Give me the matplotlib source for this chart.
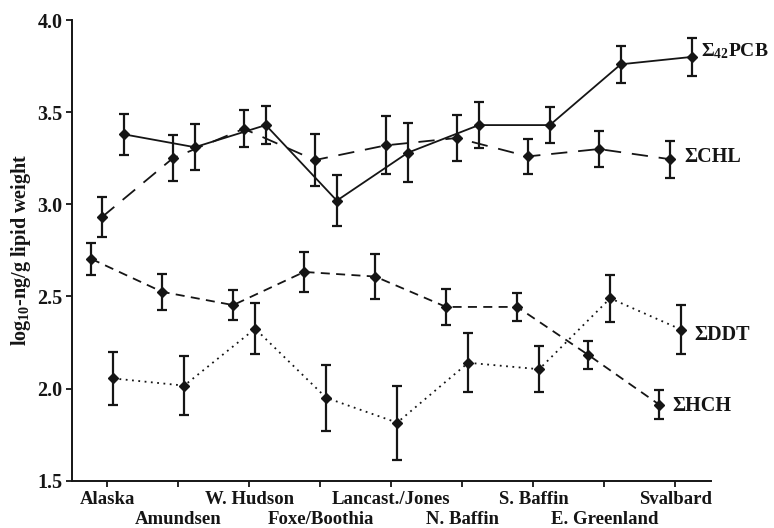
import matplotlib
matplotlib.use("Agg")
import matplotlib.pyplot as plt
import numpy as np

sites = ["Alaska", "Amundsen", "W. Hudson", "Foxe/Boothia", "Lancast./Jones",
         "N. Baffin", "S. Baffin", "E. Greenland", "Svalbard"]

pcb = [3.38, 3.31, 3.43, 3.02, 3.28, 3.43, 3.43, 3.76, 3.80]
pcb_err = [0.11, 0.125, 0.105, 0.14, 0.16, 0.124, 0.098, 0.10, 0.105]
chl = [2.93, 3.25, 3.41, 3.24, 3.32, 3.36, 3.26, 3.30, 3.245]
chl_err = [0.11, 0.125, 0.10, 0.14, 0.157, 0.123, 0.095, 0.098, 0.10]
ddt = [2.055, 2.016, 2.325, 1.95, 1.815, 2.14, 2.105, 2.49, 2.32]
ddt_err = [0.143, 0.16, 0.137, 0.18, 0.20, 0.16, 0.125, 0.127, 0.133]
hch = [2.704, 2.525, 2.453, 2.633, 2.608, 2.443, 2.443, 2.183, 1.913]
hch_err = [0.086, 0.098, 0.082, 0.11, 0.123, 0.096, 0.075, 0.076, 0.08]

plt.rcParams['font.family'] = ['Liberation Serif', 'DejaVu Serif']
plt.rcParams['font.weight'] = 'bold'
plt.rcParams['mathtext.fontset'] = 'custom'
plt.rcParams['mathtext.rm'] = 'Liberation Serif:bold'
plt.rcParams['mathtext.bf'] = 'Liberation Serif:bold'
plt.rcParams['mathtext.it'] = 'Liberation Serif:bold'

INK = '#151515'
fig = plt.figure(figsize=(7.74, 5.28), dpi=100)
ax = fig.add_axes([0.093, 0.0896, 0.8256, 0.8724])

x = np.arange(len(sites))
series = [
    (hch, hch_err, -0.23, (0, (5, 3.5))),
    (chl, chl_err, -0.08, (0, (9, 6))),
    (ddt, ddt_err, 0.08, (0, (1, 2.5))),
    (pcb, pcb_err, 0.23, '-'),
]
for vals, errs, off, ls in series:
    xs = x + off
    ax.plot(xs, vals, color=INK, linestyle=ls, linewidth=1.3, zorder=2)
    ax.errorbar(xs, vals, yerr=errs, fmt='D', color=INK, markersize=5.5,
                elinewidth=1.6, capsize=3.6, capthick=1.6, zorder=3)

ax.set_xlim(-0.5, 8.5)
ax.set_ylim(1.5, 4.0)
ax.set_yticks([1.5, 2.0, 2.5, 3.0, 3.5, 4.0])
ax.set_yticklabels(["1.5", "2.0", "2.5", "3.0", "3.5", "4.0"], fontsize=14.5, fontweight='bold')
ax.set_xticks(x)
ax.set_xticklabels([""] * len(sites))
for i, s in enumerate(sites):
    off = -7.5 if i % 2 == 0 else -22.0
    ax.annotate(s, xy=(x[i], 0), xycoords=('data', 'axes fraction'),
                xytext=(0, off), textcoords='offset points',
                ha='center', va='top', fontsize=13.5, fontweight='bold', color=INK)
ax.tick_params(direction='out', length=4, width=1.3, color=INK, pad=3, labelcolor=INK)
for s in ['top', 'right']:
    ax.spines[s].set_visible(False)
for s in ['left', 'bottom']:
    ax.spines[s].set_linewidth(1.4)
    ax.spines[s].set_color(INK)

ax.set_ylabel(r"log$_{\mathbf{10}}$-ng/g lipid weight", fontsize=14.5, fontweight='bold',
              labelpad=3, color=INK)

ax.text(8.36, pcb[-1] + 0.03, r"Σ$_{\mathbf{42}}$PCB", fontsize=14, fontweight='bold', va='center', ha='left', color=INK)
ax.text(8.12, chl[-1] + 0.01, "ΣCHL", fontsize=14.5, fontweight='bold', va='center', ha='left', color=INK)
ax.text(8.26, ddt[-1] - 0.03, "ΣDDT", fontsize=14.5, fontweight='bold', va='center', ha='left', color=INK)
ax.text(7.95, hch[-1] - 0.01, "ΣHCH", fontsize=14.5, fontweight='bold', va='center', ha='left', color=INK)

fig.savefig("out.png", dpi=100)
